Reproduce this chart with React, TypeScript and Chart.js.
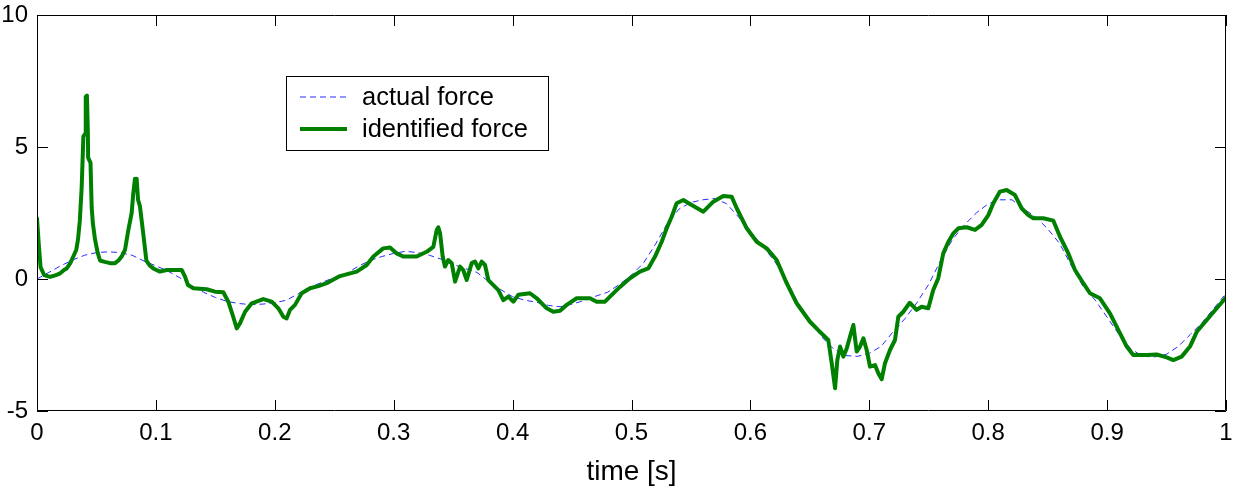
import React, { useEffect, useRef } from "react";
import { Chart, registerables } from "chart.js";

Chart.register(...registerables);

const actualTime = [
  0, 0.01, 0.02, 0.03, 0.04, 0.05, 0.06, 0.07, 0.08, 0.09, 0.1, 0.11, 0.12, 0.13, 0.14, 0.15, 0.16, 0.17, 0.18, 0.19,
  0.2, 0.21, 0.22, 0.23, 0.24, 0.25, 0.26, 0.27, 0.28, 0.29, 0.3, 0.31, 0.32, 0.33, 0.34, 0.35, 0.36, 0.37, 0.38, 0.39,
  0.4, 0.41, 0.42, 0.43, 0.44, 0.45, 0.46, 0.47, 0.48, 0.49, 0.5, 0.51, 0.52, 0.53, 0.54, 0.55, 0.56, 0.57, 0.58, 0.59,
  0.6, 0.61, 0.62, 0.63, 0.64, 0.65, 0.66, 0.67, 0.68, 0.69, 0.7, 0.71, 0.72, 0.73, 0.74, 0.75, 0.76, 0.77, 0.78, 0.79,
  0.8, 0.81, 0.82, 0.83, 0.84, 0.85, 0.86, 0.87, 0.88, 0.89, 0.9, 0.91, 0.92, 0.93, 0.94, 0.95, 0.96, 0.97, 0.98, 0.99, 1.0,
];
const actualForce = [
  0, 0.25, 0.5, 0.72, 0.9, 1.0, 1.03, 1.0, 0.9, 0.68, 0.5, 0.3, 0.05, -0.25, -0.5, -0.7, -0.85, -0.93, -0.97, -0.95,
  -0.9, -0.8, -0.55, -0.3, -0.12, 0.05, 0.2, 0.48, 0.7, 0.85, 0.97, 1.05, 1.0, 0.9, 0.75, 0.55, 0.4, 0.25, -0.1, -0.4,
  -0.67, -0.8, -0.88, -1.0, -1.05, -0.95, -0.82, -0.65, -0.5, -0.2, 0.15, 0.6, 1.3, 2.1, 2.65, 2.9, 3.0, 3.05, 2.85, 2.35,
  1.8, 1.25, 0.7, 0.0, -0.9, -1.55, -2.2, -2.65, -2.9, -2.93, -2.82, -2.55, -2.0, -1.5, -0.9, -0.2, 0.7, 1.5, 2.05, 2.5,
  2.85, 3.0, 3.0, 2.65, 2.35, 1.9, 1.35, 0.5, -0.3, -0.8, -1.45, -2.1, -2.65, -2.93, -2.95, -2.85, -2.55, -2.1, -1.65, -1.1, -0.55,
];

const identifiedTime = [
  0, 0.0015, 0.003, 0.006, 0.011, 0.016, 0.019, 0.023, 0.025, 0.028, 0.031, 0.033, 0.0345, 0.036, 0.0376, 0.039, 0.0405,
  0.041, 0.042, 0.0428, 0.043, 0.045, 0.046, 0.047, 0.0488, 0.051, 0.053, 0.057, 0.0614, 0.0656, 0.0685, 0.0712, 0.074,
  0.0768, 0.0796, 0.081, 0.0824, 0.0832, 0.0838, 0.085, 0.0866, 0.0894, 0.092, 0.095, 0.0978, 0.1034, 0.109, 0.1147,
  0.1217, 0.1245, 0.127, 0.1315, 0.1427, 0.1497, 0.1567, 0.1609, 0.165, 0.168, 0.1707, 0.175, 0.1806, 0.1903, 0.1974,
  0.203, 0.2072, 0.21, 0.2128, 0.217, 0.2226, 0.2296, 0.2366, 0.2436, 0.2548, 0.2689, 0.2773, 0.2829, 0.2912, 0.2969,
  0.3025, 0.308, 0.3193, 0.3277, 0.3333, 0.3362, 0.3375, 0.339, 0.3412, 0.3431, 0.3459, 0.3488, 0.3516, 0.3558, 0.3585,
  0.3614, 0.3656, 0.3684, 0.3712, 0.374, 0.3768, 0.3796, 0.3838, 0.388, 0.3922, 0.3964, 0.4006, 0.4048, 0.4146, 0.4203,
  0.4287, 0.4342, 0.4399, 0.4455, 0.4539, 0.4651, 0.4707, 0.4777, 0.4819, 0.4903, 0.4987, 0.5071, 0.5141, 0.5198, 0.5254,
  0.5296, 0.5338, 0.538, 0.5436, 0.5506, 0.5604, 0.5688, 0.5772, 0.5842, 0.5885, 0.5969, 0.6053, 0.6137, 0.6221, 0.6305,
  0.6389, 0.6501, 0.6585, 0.6655, 0.6684, 0.6712, 0.6731, 0.6754, 0.6782, 0.681, 0.6838, 0.6866, 0.6894, 0.6922, 0.695,
  0.6978, 0.7006, 0.7048, 0.7076, 0.7104, 0.7132, 0.7174, 0.7216, 0.7244, 0.7286, 0.734, 0.7398, 0.744, 0.7496, 0.7538,
  0.758, 0.7622, 0.7665, 0.7707, 0.7749, 0.7819, 0.7889, 0.7945, 0.8001, 0.8043, 0.8099, 0.8155, 0.8225, 0.8281, 0.8337,
  0.838, 0.8464, 0.8548, 0.8604, 0.8674, 0.873, 0.88, 0.8856, 0.894, 0.9024, 0.9094, 0.9165, 0.922, 0.9333, 0.9417,
  0.9501, 0.9557, 0.9627, 0.9697, 0.9754, 0.9838, 0.9922, 1.0,
];
const identifiedForce = [
  2.3, 1.3, 0.45, 0.15, 0.08, 0.15, 0.2, 0.35, 0.4, 0.6, 0.9, 1.1, 1.5, 2.2, 3.5, 5.4, 5.5,
  6.9, 6.95, 5.5, 4.6, 4.4, 2.7, 2.1, 1.5, 1.0, 0.7, 0.65, 0.6, 0.6, 0.7, 0.85, 1.1,
  1.85, 2.5, 3.25, 3.8, 3.5, 3.8, 3.0, 2.75, 1.7, 0.7, 0.5, 0.4, 0.28, 0.34, 0.34,
  0.34, 0.09, -0.23, -0.35, -0.39, -0.48, -0.5, -0.86, -1.43, -1.87, -1.68, -1.24, -0.92, -0.76, -0.86,
  -1.11, -1.43, -1.49, -1.17, -0.98, -0.54, -0.35, -0.27, -0.16, 0.11, 0.28, 0.53, 0.85, 1.16, 1.19,
  0.97, 0.85, 0.85, 1.03, 1.22, 1.86, 1.96, 1.73, 0.85, 0.47, 0.72, 0.6, -0.1, 0.47, 0.34,
  -0.04, 0.6, 0.66, 0.4, 0.66, 0.53, -0.04, -0.23, -0.42, -0.8, -0.67, -0.86, -0.6, -0.54, -0.73,
  -1.11, -1.24, -1.2, -0.98, -0.73, -0.73, -0.86, -0.86, -0.67, -0.3, 0.03, 0.28, 0.4, 0.85, 1.41,
  1.92, 2.36, 2.87, 2.99, 2.8, 2.55, 2.93, 3.14, 3.12, 2.68, 1.92, 1.41, 1.16, 0.72, -0.16,
  -0.92, -1.62, -2.0, -2.31, -3.19, -4.14, -3.07, -2.56, -2.94, -2.63, -2.18, -1.74, -2.75, -2.56, -2.25,
  -2.69, -3.32, -3.26, -3.57, -3.8, -3.19, -2.69, -2.31, -1.43, -1.24, -0.9, -1.17, -1.05, -1.11, -0.42,
  0.03, 0.97, 1.41, 1.73, 1.92, 1.96, 1.86, 2.05, 2.42, 2.87, 3.31, 3.37, 3.18, 2.68, 2.42,
  2.3, 2.3, 2.21, 1.6, 0.97, 0.34, -0.16, -0.54, -0.73, -1.3, -1.93, -2.56, -2.88, -2.88, -2.86,
  -2.97, -3.07, -2.94, -2.56, -2.0, -1.55, -1.11, -0.7,
];

const xTickLabels = ["0", "0.1", "0.2", "0.3", "0.4", "0.5", "0.6", "0.7", "0.8", "0.9", "1"];
const yTickLabels = ["-5", "0", "5", "10"];
const seriesLabels = ["actual force", "identified force"];
const xAxisTitle = "time [s]";

const FONT = "'Liberation Sans', Arial, Helvetica, sans-serif";

const boxPlugin = {
  id: "matlabBox",
  afterDraw(chart: any) {
    const { ctx, chartArea } = chart;
    const { left, right, top, bottom } = chartArea;
    const xs = chart.scales.x;
    const ys = chart.scales.y;
    ctx.save();
    ctx.strokeStyle = "#000";
    ctx.lineWidth = 1;
    ctx.beginPath();
    ctx.rect(Math.round(left) + 0.5, Math.round(top) + 0.5, Math.round(right - left) - 1, Math.round(bottom - top) - 1);
    ctx.stroke();
    const tl = 11;
    ctx.beginPath();
    xs.ticks.forEach((t: any) => {
      const px = Math.round(xs.getPixelForValue(t.value)) + 0.5;
      ctx.moveTo(px, bottom);
      ctx.lineTo(px, bottom - tl);
      ctx.moveTo(px, top);
      ctx.lineTo(px, top + tl);
    });
    ys.ticks.forEach((t: any) => {
      const py = Math.round(ys.getPixelForValue(t.value)) + 0.5;
      ctx.moveTo(left, py);
      ctx.lineTo(left + tl, py);
      ctx.moveTo(right, py);
      ctx.lineTo(right - tl, py);
    });
    ctx.stroke();

    // legend box
    const lx = left + 249;
    const ly = top + 61;
    const lw = 262;
    const lh = 74;
    ctx.fillStyle = "#fff";
    ctx.fillRect(lx, ly, lw, lh);
    ctx.strokeStyle = "#000";
    ctx.lineWidth = 1;
    ctx.strokeRect(lx + 0.5, ly + 0.5, lw, lh);
    const ds = chart.data.datasets;
    const rows = [ly + 21, ly + 53];
    ds.forEach((d: any, i: number) => {
      ctx.save();
      ctx.strokeStyle = d.borderColor;
      ctx.lineWidth = d.borderWidth;
      ctx.setLineDash(d.borderDash || []);
      ctx.beginPath();
      ctx.moveTo(lx + 14, rows[i]);
      ctx.lineTo(lx + 61, rows[i]);
      ctx.stroke();
      ctx.restore();
      ctx.fillStyle = "#000";
      ctx.font = `25.5px ${FONT}`;
      ctx.textBaseline = "middle";
      ctx.textAlign = "left";
      ctx.fillText(d.label, lx + 76, rows[i] + 1);
    });
    ctx.restore();
  },
};

export default function App() {
  const ref = useRef<HTMLCanvasElement | null>(null);
  useEffect(() => {
    document.body.style.margin = "0";
    const canvas = ref.current;
    if (!canvas) return;
    const chart = new Chart(canvas, {
      type: "line",
      data: {
        datasets: [
          {
            label: seriesLabels[0],
            data: actualTime.map((t, i) => ({ x: t, y: actualForce[i] })),
            borderColor: "#2a2aff",
            borderWidth: 1,
            borderDash: [6, 4],
            pointRadius: 0,
            tension: 0,
            order: 2,
          },
          {
            label: seriesLabels[1],
            data: identifiedTime.map((t, i) => ({ x: t, y: identifiedForce[i] })),
            borderColor: "#008000",
            borderWidth: 4,
            borderJoinStyle: "round",
            borderCapStyle: "round",
            pointRadius: 0,
            tension: 0,
            order: 1,
          },
        ],
      },
      options: {
        animation: false,
        responsive: false,
        maintainAspectRatio: false,
        layout: { padding: { top: 15, right: 8, left: 0, bottom: 0 } },
        plugins: { legend: { display: false }, tooltip: { enabled: false } },
        scales: {
          x: {
            type: "linear",
            min: 0,
            max: 1,
            grid: { display: false, drawTicks: false },
            border: { display: false },
            afterFit: (s: any) => {
              s.height = 83;
              s.paddingLeft = 0;
              s.paddingRight = 0;
            },
            ticks: {
              stepSize: 0.1,
              padding: 8,
              color: "#000",
              font: { size: 24, family: FONT },
              maxRotation: 0,
              callback: (v: any) => xTickLabels[Math.round(Number(v) * 10)],
            },
            title: {
              display: true,
              text: xAxisTitle,
              color: "#000",
              font: { size: 28, family: FONT },
              padding: { top: 0, bottom: 5 },
            },
          },
          y: {
            type: "linear",
            min: -5,
            max: 10,
            grid: { display: false, drawTicks: false },
            border: { display: false },
            afterFit: (s: any) => {
              s.width = 37;
              s.paddingTop = 0;
              s.paddingBottom = 0;
            },
            ticks: {
              stepSize: 5,
              padding: 9,
              color: "#000",
              font: { size: 24, family: FONT },
              callback: (v: any) => yTickLabels[Math.round((Number(v) + 5) / 5)],
            },
          },
        },
      },
      plugins: [boxPlugin],
    });
    return () => chart.destroy();
  }, []);
  return (
    <div style={{ width: 1234, height: 494, background: "#fff" }}>
      <canvas ref={ref} width={1234} height={494} style={{ display: "block" }} />
    </div>
  );
}
